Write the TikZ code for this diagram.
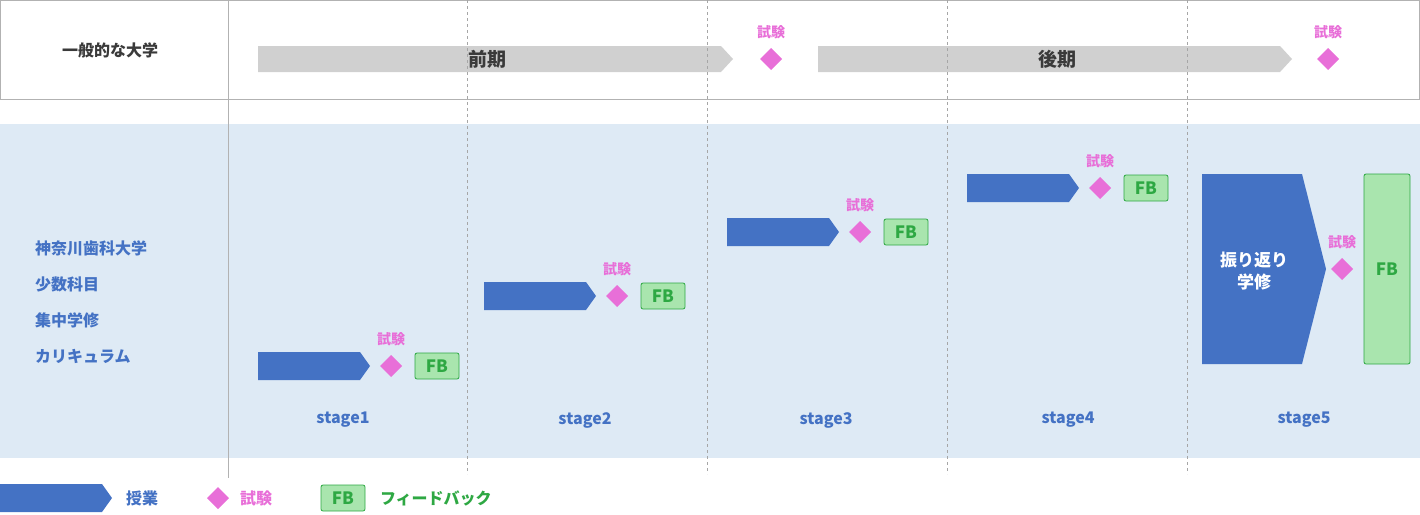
\documentclass[tikz,border=0pt]{standalone}
\usepackage{fontspec}
\setmainfont{Noto Sans CJK JP}
\usetikzlibrary{positioning}
\definecolor{jugyo}{HTML}{4472C4}
\definecolor{shiken}{HTML}{E86FD8}
\definecolor{fbfill}{HTML}{A9E5AE}
\definecolor{fbline}{HTML}{2EA843}
\definecolor{band}{HTML}{DEEAF5}
\definecolor{term}{HTML}{D0D0D0}
\definecolor{ink}{HTML}{3A3A3A}
% pentagon arrow: x0, x1, ytop, ybot
\newcommand{\lesson}[4]{\fill[jugyo] (#1,#3) -- (#2-10,#3) -- (#2,{(#3+#4)/2}) -- (#2-10,#4) -- (#1,#4) -- cycle;}
\newcommand{\exam}[2]{\fill[shiken] (#1,#2-11) -- (#1+11,#2) -- (#1,#2+11) -- (#1-11,#2) -- cycle;
  \node[examlabel] at (#1,#2-27) {試験};}
\begin{document}
\begin{tikzpicture}[x=1pt,y=-1pt,inner sep=0pt,outer sep=0pt,
  examlabel/.style={text=shiken,font=\fontsize{14}{14}\selectfont\bfseries},
  fbbox/.style={draw=fbline,fill=fbfill,rounded corners=2pt,text=fbline,font=\fontsize{17}{17}\selectfont\bfseries,minimum width=44pt,minimum height=26pt,line width=0.8pt},
  stagelabel/.style={text=jugyo,font=\fontsize{16}{16}\selectfont\bfseries},
  bluetext/.style={text=jugyo,font=\fontsize{16}{16}\selectfont\bfseries},
  divider/.style={gray!70,dashed,line width=0.8pt}]
\useasboundingbox (0,0) rectangle (1420,514);

% general university row
\draw[gray!60,line width=0.8pt] (0,0.5) rectangle (1419.5,99);
\node[text=ink,font=\fontsize{16}{16}\selectfont\bfseries] (ippan) at (110,50) {一般的な大学};
\fill[term] (258,46) -- (721,46) -- (733,59) -- (721,72) -- (258,72) -- cycle;
\node[text=ink,font=\fontsize{19}{19}\selectfont\bfseries] (zenki) at (487,59) {前期};
\fill[term] (818,46) -- (1280,46) -- (1292,59) -- (1280,72) -- (818,72) -- cycle;
\node[text=ink,font=\fontsize{19}{19}\selectfont\bfseries] (kouki) at (1057,59) {後期};
\exam{771}{59}
\exam{1328}{59}

% kanagawa band
\fill[band] (0,124) rectangle (1420,458);
\foreach \x in {467,707,947,1187}
  \draw[divider] (\x,0) -- (\x,474);
\draw[gray!60,line width=0.8pt] (228,0) -- (228,478);
\node[bluetext,anchor=west] (kd1) at (35,248) {神奈川歯科大学};
\node[bluetext,anchor=west] (kd2) at (35,284) {少数科目};
\node[bluetext,anchor=west] (kd3) at (35,320) {集中学修};
\node[bluetext,anchor=west] (kd4) at (35,356) {カリキュラム};

% stages 1-4
\foreach \a/\ty/\n/\lx in {258/352/1/343,484/282/2/585,727/218/3/826,967/174/4/1068}{
  \lesson{\a}{\a+112}{\ty}{\ty+28}
  \exam{\a+133}{\ty+14}
  \node[fbbox] (fb\n) at (\a+179,\ty+14) {FB};
  \node[stagelabel] (stage\n) at (\lx,420) {stage\n};
}

% stage 5
\fill[jugyo] (1202,174) -- (1302,174) -- (1326,269) -- (1302,364) -- (1202,364) -- cycle;
\node[text=white,font=\fontsize{17}{22}\selectfont\bfseries,align=center] (review) at (1254,271) {振り返り\\学修};
\exam{1342}{269}
\node[fbbox,minimum width=46pt,minimum height=190pt] (fb5) at (1387,269) {FB};
\node[stagelabel] (stage5) at (1304,420) {stage5};

% legend
\lesson{0}{112}{484}{512}
\node[bluetext,anchor=west] (legjugyo) at (126,498) {授業};
\fill[shiken] (218,487) -- (229,498) -- (218,509) -- (207,498) -- cycle;
\node[examlabel,anchor=west,font=\fontsize{16}{16}\selectfont\bfseries] (legshiken) at (240,498) {試験};
\node[fbbox] (legfb) at (343,498) {FB};
\node[anchor=west,text=fbline,font=\fontsize{16}{16}\selectfont\bfseries] (legfbtext) at (380,498) {フィードバック};
\end{tikzpicture}
\end{document}
